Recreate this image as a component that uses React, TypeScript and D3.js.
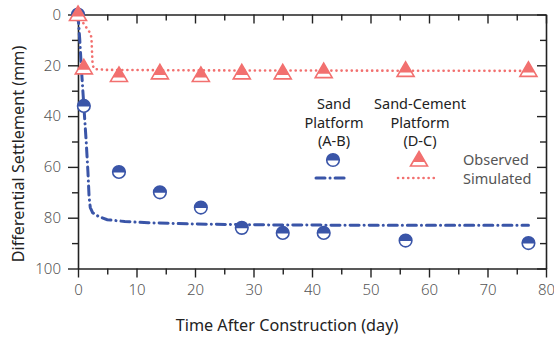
import { useRef, useEffect } from "react";
import * as d3 from "d3";

const sandObsDays = [0, 1, 7, 14, 21, 28, 35, 42, 56, 77];
const sandObsMm = [0, 36, 62, 70, 76, 84, 86, 86, 89, 90];

const cementObsDays = [0, 1, 7, 14, 21, 28, 35, 42, 56, 77];
const cementObsMm = [0, 21, 24, 23, 24, 23, 23, 22.5, 22, 22];

const sandSimDays = [0, 0.3, 0.6, 1, 1.4, 1.7, 1.9, 2.1, 2.5, 3.5, 5, 8, 12, 20, 30, 50, 77];
const sandSimMm = [0, 10, 22, 36, 50, 62, 72, 76, 78, 79.5, 80.8, 81.5, 82, 82.5, 82.8, 83, 83];

const cementSimDays = [0, 0.8, 1.4, 2, 2.3, 2.4, 2.5, 2.8, 5, 20, 77];
const cementSimMm = [0, 3, 5, 7, 9, 15, 20, 21.5, 21.8, 22, 22.2];

const xTicks = [0, 10, 20, 30, 40, 50, 60, 70, 80];
const yTicks = [0, 20, 40, 60, 80, 100];

const width = 554;
const height = 338;
const margin = { top: 14.5, right: 8, bottom: 69.5, left: 78 };
const blue = "#3a55a8";
const pink = "#f2706f";
const font = "'Noto Sans', sans-serif";

const App = () => {
  const svgRef = useRef<SVGSVGElement>(null);

  useEffect(() => {
    const svg = d3.select(svgRef.current);
    svg.selectAll("*").remove();

    const x = d3.scaleLinear().domain([0, 80]).range([margin.left, width - margin.right]);
    const y = d3.scaleLinear().domain([0, 100]).range([margin.top, height - margin.bottom]);

    const axisColor = "#222";
    const styleAxis = (g: any) => {
      g.select(".domain").attr("stroke", axisColor).attr("stroke-width", 1.6);
      g.selectAll(".tick line").attr("stroke", axisColor).attr("stroke-width", 1.4);
      g.selectAll(".tick text")
        .attr("fill", "#555")
        .attr("font-size", 15)
        .attr("font-weight", 300)
        .attr("font-family", font);
    };
    const plainTicks = (g: any) => {
      g.select(".domain").remove();
      g.selectAll("line").attr("stroke", axisColor).attr("stroke-width", 1.4);
    };
    const boxSide = (g: any) => {
      g.select(".domain").attr("stroke", axisColor).attr("stroke-width", 1.6);
      g.selectAll("line").attr("stroke", axisColor).attr("stroke-width", 1.4);
    };

    // minor ticks
    const xMinor = d3.range(5, 80, 10);
    const yMinor = d3.range(10, 100, 20);

    svg.append("g")
      .attr("transform", `translate(0,${y(100)})`)
      .call(d3.axisBottom(x).tickValues(xTicks).tickSize(9).tickSizeOuter(0).tickPadding(7))
      .call(styleAxis);
    svg.append("g")
      .attr("transform", `translate(0,${y(100)})`)
      .call(d3.axisBottom(x).tickValues(xMinor).tickSize(6).tickFormat(() => ""))
      .call(plainTicks);

    svg.append("g")
      .attr("transform", `translate(${x(0)},0)`)
      .call(d3.axisLeft(y).tickValues(yTicks).tickSize(10).tickSizeOuter(0).tickPadding(7))
      .call(styleAxis);
    svg.append("g")
      .attr("transform", `translate(${x(0)},0)`)
      .call(d3.axisLeft(y).tickValues(yMinor).tickSize(6).tickFormat(() => ""))
      .call(plainTicks);

    // top and right with inward ticks
    svg.append("g")
      .attr("transform", `translate(0,${y(0)})`)
      .call(d3.axisBottom(x).tickValues(xTicks).tickSize(9).tickSizeOuter(0).tickFormat(() => ""))
      .call(boxSide);
    svg.append("g")
      .attr("transform", `translate(0,${y(0)})`)
      .call(d3.axisBottom(x).tickValues(xMinor).tickSize(6).tickFormat(() => ""))
      .call(plainTicks);
    svg.append("g")
      .attr("transform", `translate(${x(80)},0)`)
      .call(d3.axisLeft(y).tickValues(yTicks).tickSize(9).tickSizeOuter(0).tickFormat(() => ""))
      .call(boxSide);
    svg.append("g")
      .attr("transform", `translate(${x(80)},0)`)
      .call(d3.axisLeft(y).tickValues(yMinor).tickSize(6).tickFormat(() => ""))
      .call(plainTicks);

    // axis titles
    svg.append("text")
      .attr("x", 287)
      .attr("y", 331)
      .attr("text-anchor", "middle")
      .attr("font-family", font)
      .attr("font-size", 16.2)
      .attr("fill", "#222")
      .text("Time After Construction (day)");
    svg.append("text")
      .attr("transform", `translate(24,154) rotate(-90)`)
      .attr("text-anchor", "middle")
      .attr("font-family", font)
      .attr("font-size", 16.2)
      .attr("fill", "#222")
      .text("Differential Settlement (mm)");

    const line = d3.line<[number, number]>().x((d) => x(d[0])).y((d) => y(d[1]));

    svg.append("path")
      .datum(cementSimDays.map((d, i) => [d, cementSimMm[i]] as [number, number]))
      .attr("d", line)
      .attr("fill", "none")
      .attr("stroke", pink)
      .attr("stroke-width", 2.6)
      .attr("stroke-linecap", "round")
      .attr("stroke-dasharray", "0.1 5");

    svg.append("path")
      .datum(sandSimDays.map((d, i) => [d, sandSimMm[i]] as [number, number]))
      .attr("d", line)
      .attr("fill", "none")
      .attr("stroke", blue)
      .attr("stroke-width", 3)
      .attr("stroke-linecap", "round")
      .attr("stroke-dasharray", "9 5 0.1 5");

    const defs = svg.append("defs");
    defs.append("clipPath").attr("id", "topHalf")
      .append("rect").attr("x", -10).attr("y", -10).attr("width", 20).attr("height", 10.5);
    defs.append("clipPath").attr("id", "triTop")
      .append("rect").attr("x", -12).attr("y", -12).attr("width", 24).attr("height", 14);

    const drawCircle = (g: any) => {
      g.append("circle").attr("r", 6.3).attr("fill", "white").attr("stroke", blue).attr("stroke-width", 1.6);
      g.append("circle").attr("r", 6.3).attr("fill", blue).attr("clip-path", "url(#topHalf)");
    };
    const triPath = "M0,-8.5 L8.5,6 L-8.5,6 Z";
    const drawTri = (g: any) => {
      g.append("path").attr("d", triPath).attr("fill", "white").attr("stroke", pink).attr("stroke-width", 1.6).attr("stroke-linejoin", "miter");
      g.append("path").attr("d", triPath).attr("fill", pink).attr("clip-path", "url(#triTop)");
    };

    sandObsDays.forEach((d, i) => {
      const g = svg.append("g").attr("transform", `translate(${x(d)},${y(sandObsMm[i])})`);
      drawCircle(g);
    });
    cementObsDays.forEach((d, i) => {
      const g = svg.append("g").attr("transform", `translate(${x(d)},${y(cementObsMm[i])})`);
      drawTri(g);
    });

    // legend
    const lg = svg.append("g").attr("font-family", font).attr("font-size", 14.5);
    const header = (cx: number, lines: string[]) => {
      lines.forEach((t, i) => {
        lg.append("text").attr("x", cx).attr("y", 109 + i * 18.5).attr("text-anchor", "middle").attr("fill", "#222").text(t);
      });
    };
    header(334, ["Sand", "Platform", "(A-B)"]);
    header(420, ["Sand-Cement", "Platform", "(D-C)"]);
    drawCircle(lg.append("g").attr("transform", "translate(333,160)"));
    drawTri(lg.append("g").attr("transform", "translate(419,160)"));
    lg.append("line").attr("x1", 316).attr("x2", 349).attr("y1", 178).attr("y2", 178)
      .attr("stroke", blue).attr("stroke-width", 3).attr("stroke-linecap", "round").attr("stroke-dasharray", "9 5 0.1 5");
    lg.append("line").attr("x1", 398).attr("x2", 434).attr("y1", 178).attr("y2", 178)
      .attr("stroke", pink).attr("stroke-width", 2.6).attr("stroke-linecap", "round").attr("stroke-dasharray", "0.1 5");
    lg.append("text").attr("x", 463).attr("y", 165).attr("fill", "#555").text("Observed");
    lg.append("text").attr("x", 463).attr("y", 184).attr("fill", "#555").text("Simulated");
  }, []);

  return (
    <svg ref={svgRef} width={width} height={height} style={{ position: "absolute", left: 0, top: 0 }}></svg>
  );
};

export default App;
